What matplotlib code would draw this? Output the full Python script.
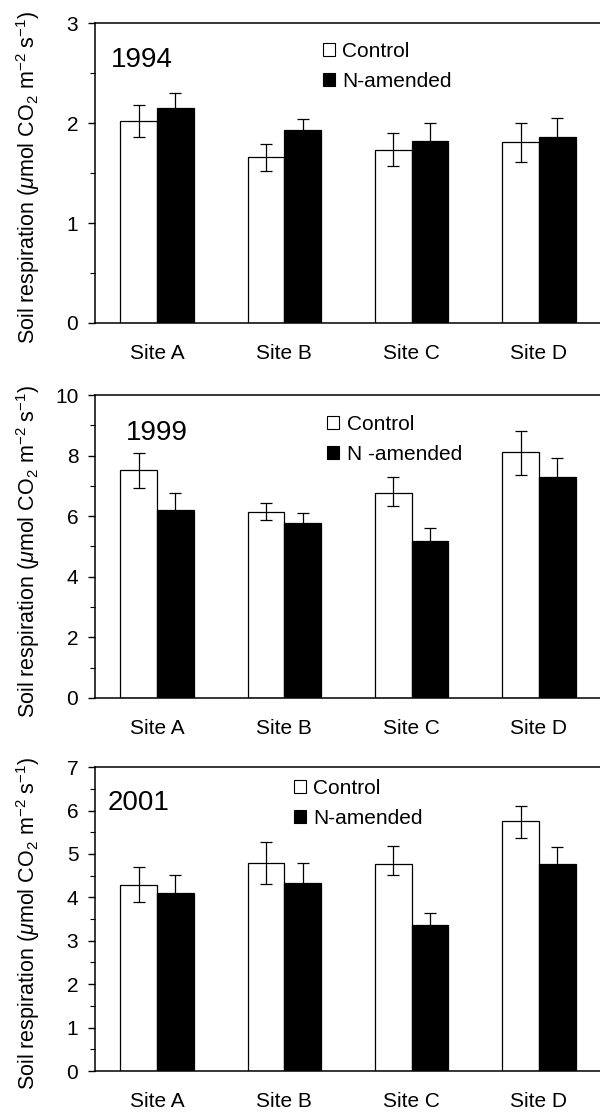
import matplotlib
matplotlib.use('Agg')
import matplotlib.pyplot as plt
import numpy as np
from matplotlib.patches import Patch
from matplotlib.ticker import MultipleLocator

plt.rcParams['font.family'] = ['Liberation Sans', 'DejaVu Sans']
plt.rcParams['mathtext.fontset'] = 'custom'
plt.rcParams['mathtext.rm'] = 'Liberation Sans'
plt.rcParams['mathtext.it'] = 'Liberation Sans:italic'

sites = ['Site A', 'Site B', 'Site C', 'Site D']
years = ['1994', '1999', '2001']
legend_labels = [['Control', 'N-amended'], ['Control', 'N -amended'], ['Control', 'N-amended']]

# 1994
ctrl_1994 = [2.02, 1.66, 1.73, 1.81]
ctrl_lo_1994 = [0.16, 0.14, 0.16, 0.20]
ctrl_hi_1994 = [0.16, 0.13, 0.17, 0.19]
n_1994 = [2.15, 1.93, 1.82, 1.86]
n_err_1994 = [0.15, 0.11, 0.18, 0.19]

# 1999
ctrl_1999 = [7.52, 6.15, 6.78, 8.11]
ctrl_lo_1999 = [0.58, 0.28, 0.45, 0.74]
ctrl_hi_1999 = [0.55, 0.29, 0.50, 0.69]
n_1999 = [6.20, 5.78, 5.18, 7.28]
n_err_1999 = [0.55, 0.33, 0.42, 0.63]

# 2001
ctrl_2001 = [4.29, 4.79, 4.76, 5.75]
ctrl_lo_2001 = [0.40, 0.49, 0.25, 0.38]
ctrl_hi_2001 = [0.41, 0.49, 0.42, 0.36]
n_2001 = [4.10, 4.32, 3.37, 4.77]
n_err_2001 = [0.41, 0.47, 0.26, 0.38]

ymax = [3, 10, 7]
major_step = [1, 2, 1]
minor_step = [0.5, 1, 0.5]

panels = [
    (ctrl_1994, ctrl_lo_1994, ctrl_hi_1994, n_1994, n_err_1994),
    (ctrl_1999, ctrl_lo_1999, ctrl_hi_1999, n_1999, n_err_1999),
    (ctrl_2001, ctrl_lo_2001, ctrl_hi_2001, n_2001, n_err_2001),
]

# axes placement (figure fraction) and text positions (axes fraction)
ax_rects = [[0.1583, 0.7098, 0.8417, 0.2695],
            [0.1583, 0.3729, 0.8417, 0.2722],
            [0.1583, 0.0377, 0.8417, 0.2731]]
year_pos = [(0.031, 0.877), (0.061, 0.875), (0.026, 0.882)]
legend_pos = [(0.4515, 0.938), (0.46, 0.935), (0.394, 0.962)]

fig = plt.figure(figsize=(6, 11.13), dpi=100)

x = np.arange(len(sites))
w = 0.288

for i, (ctrl, clo, chi, nam, nerr) in enumerate(panels):
    ax = fig.add_axes(ax_rects[i])
    ax.bar(x - w / 2, ctrl, w, color='white', edgecolor='black', linewidth=0.9, zorder=2)
    ax.bar(x + w / 2, nam, w, color='black', edgecolor='black', linewidth=0.9, zorder=2)
    ax.errorbar(x - w / 2, ctrl, yerr=[clo, chi], fmt='none', ecolor='black',
                elinewidth=0.9, capsize=4.5, capthick=0.9, zorder=3)
    ax.errorbar(x + w / 2, nam, yerr=[nerr, nerr], fmt='none', ecolor='black',
                elinewidth=0.9, capsize=4.5, capthick=0.9, zorder=3)

    ax.set_xlim(-0.487, 3.48)
    ax.set_ylim(0, ymax[i])
    ax.yaxis.set_major_locator(MultipleLocator(major_step[i]))
    ax.yaxis.set_minor_locator(MultipleLocator(minor_step[i]))
    ax.set_xticks(x)
    ax.set_xticklabels(sites)
    ax.tick_params(axis='x', length=0, pad=15, labelsize=15)
    ax.tick_params(axis='y', which='major', length=5, width=1, pad=7, labelsize=15)
    ax.tick_params(axis='y', which='minor', length=3.5, width=0.8)
    ax.spines['right'].set_visible(False)
    for s in ['left', 'top', 'bottom']:
        ax.spines[s].set_linewidth(1.1)

    ax.text(year_pos[i][0], year_pos[i][1], years[i], transform=ax.transAxes,
            fontsize=20, ha='left', va='center')

    handles = [Patch(facecolor='white', edgecolor='black', linewidth=0.8),
               Patch(facecolor='black', edgecolor='black', linewidth=0.8)]
    ax.legend(handles, legend_labels[i], loc='upper left', bbox_to_anchor=legend_pos[i],
              frameon=False, fontsize=15, handlelength=0.58, handleheight=0.58,
              handletextpad=0.35, labelspacing=0.55, borderpad=0, borderaxespad=0)

    b = ax_rects[i]
    fig.text(28 / 600, b[1] + b[3] / 2 - 0.004,
             r'Soil respiration ($\mu$mol CO$_2$ m$^{-2}$ s$^{-1}$)',
             rotation=90, ha='center', va='center', fontsize=15.5)

fig.savefig('out.png', dpi=100)
